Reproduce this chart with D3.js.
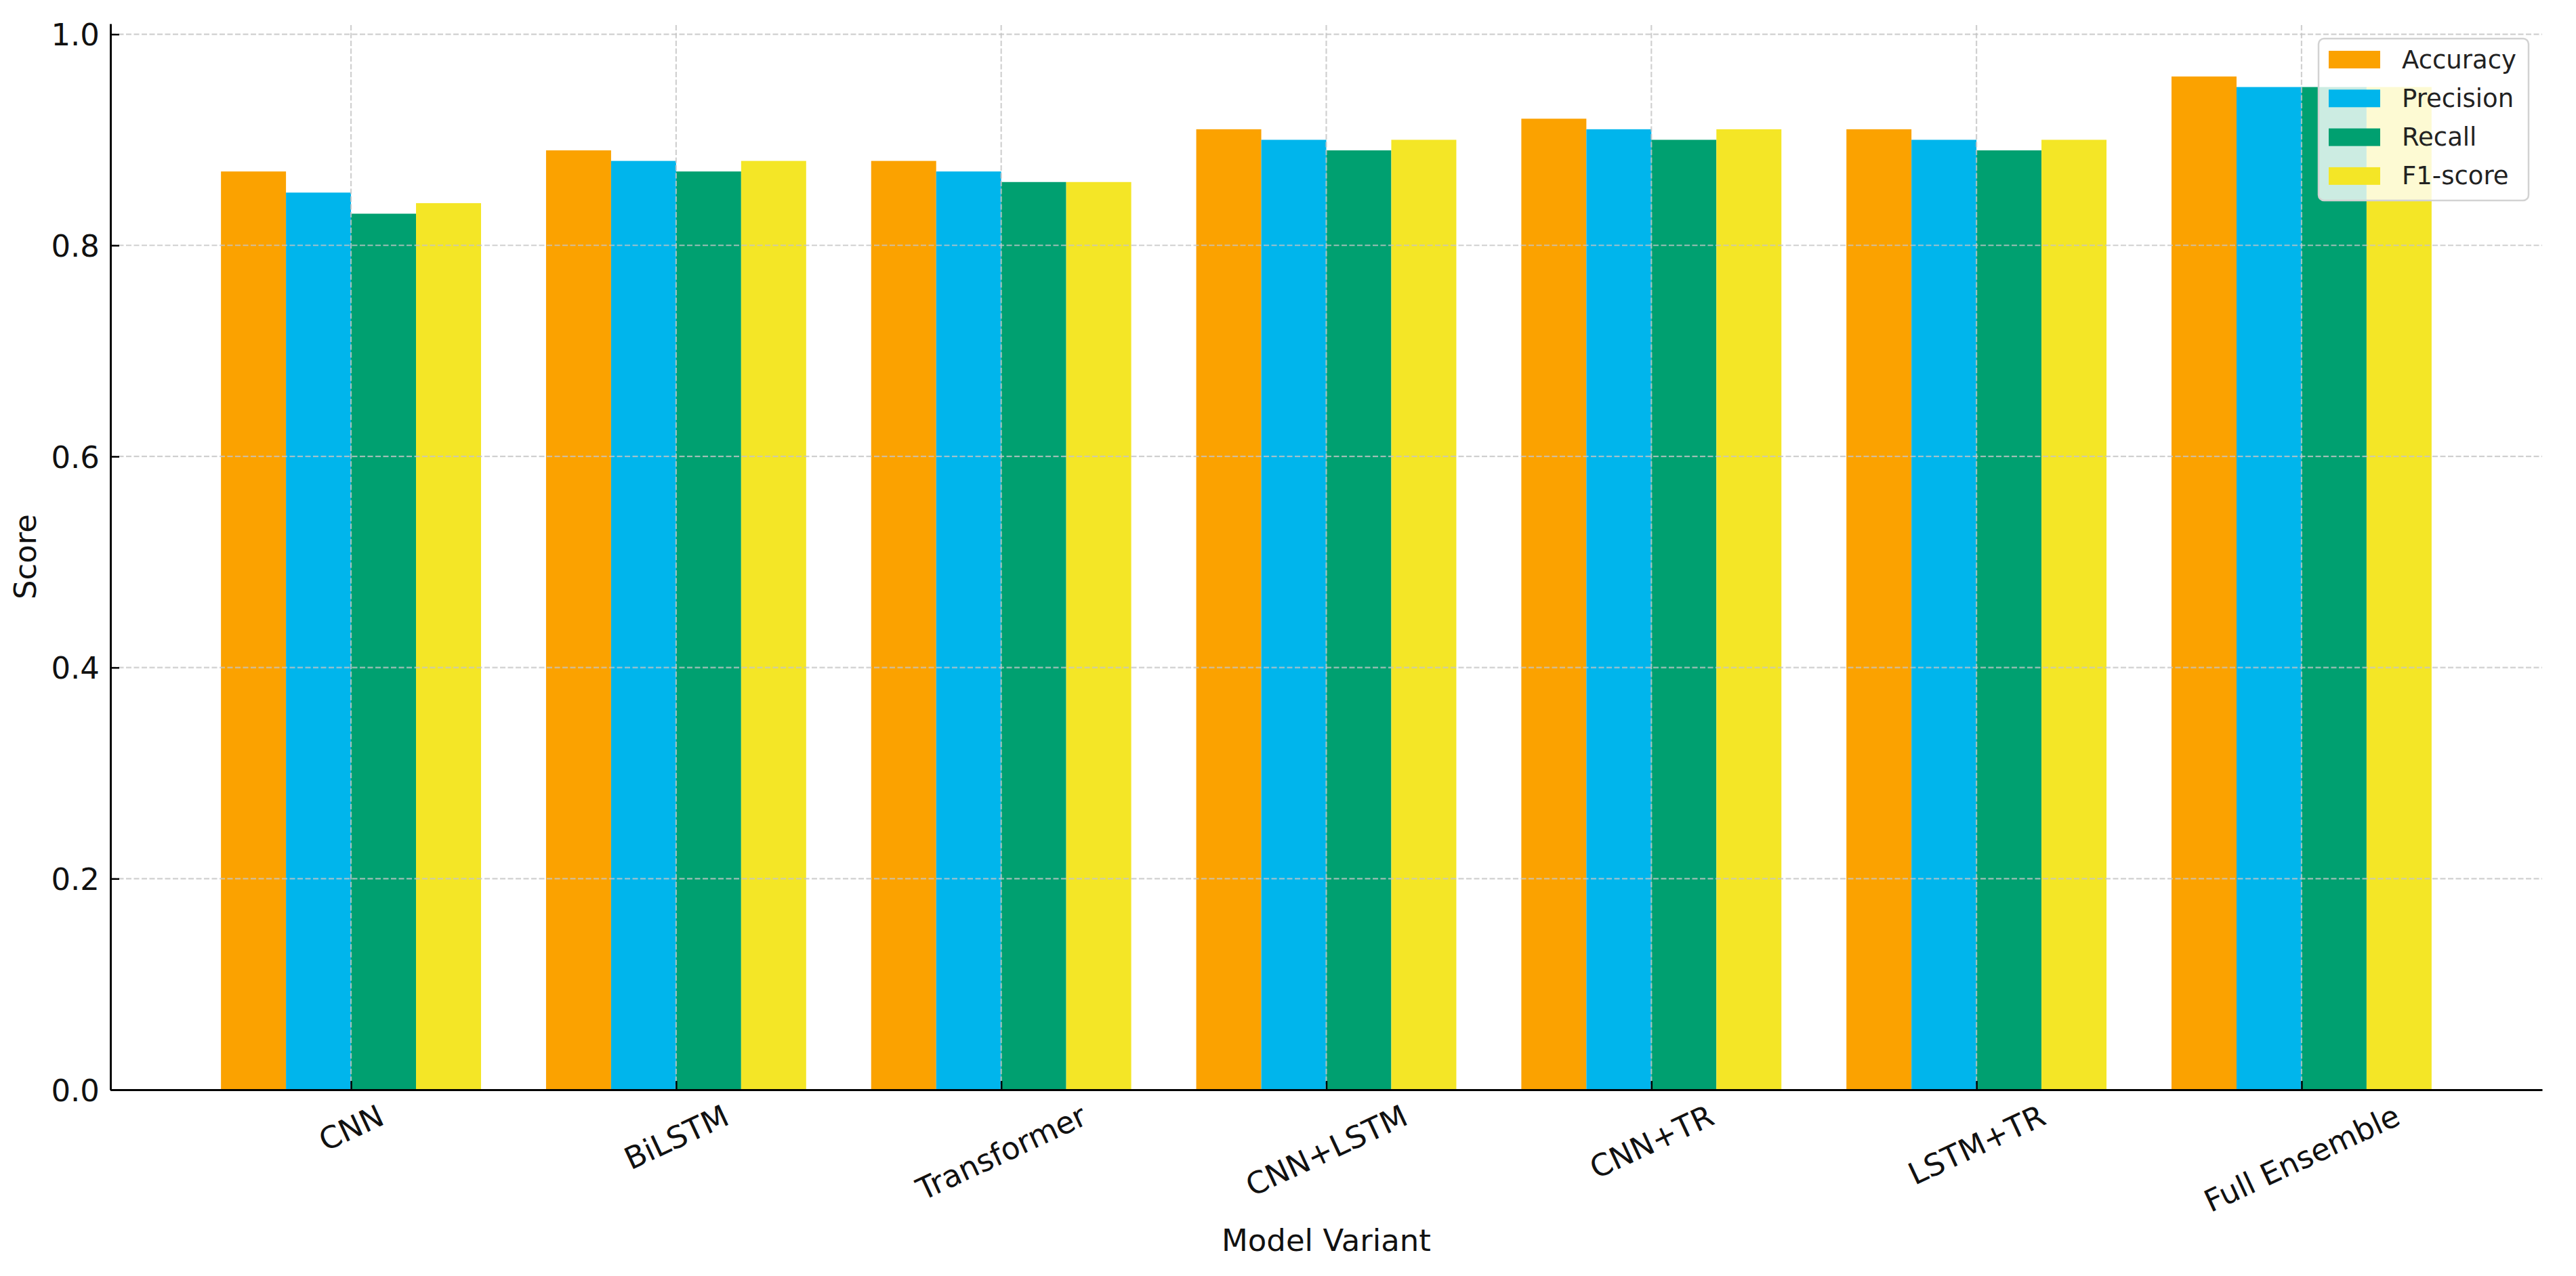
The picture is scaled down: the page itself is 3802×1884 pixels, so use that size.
<!DOCTYPE html>
<html>
<head>
<meta charset="utf-8">
<script src="https://cdn.jsdelivr.net/npm/d3@7"></script>
<style>
  body { margin: 0; background: #fff; }
  text { font-family: "DejaVu Sans", sans-serif; }
</style>
</head>
<body>
<div id="chart"></div>
<script>
// data
var models = ["CNN", "BiLSTM", "Transformer", "CNN+LSTM", "CNN+TR", "LSTM+TR", "Full Ensemble"];
var metrics = ["Accuracy", "Precision", "Recall", "F1-score"];
var accuracy  = [0.87, 0.89, 0.88, 0.91, 0.92, 0.91, 0.96];
var precision = [0.85, 0.88, 0.87, 0.90, 0.91, 0.90, 0.95];
var recall    = [0.83, 0.87, 0.86, 0.89, 0.90, 0.89, 0.95];
var f1score   = [0.84, 0.88, 0.86, 0.90, 0.91, 0.90, 0.95];
var yTicks = [0.0, 0.2, 0.4, 0.6, 0.8, 1.0];
var colors = ["#FBA200", "#00B5EC", "#00A070", "#F4E626"];

var series = [accuracy, precision, recall, f1score];

// layout
var svg_w = 3802;
var svg_h = 1884;
var margin = {left: 163, right: 50, top: 35, bottom: 275};
var bar_w = 0.2;
var tick_font = 45;
var legend_font = 37;
var rot = 25;

var svg = d3.select("#chart")
  .append("svg")
  .attr("width", svg_w)
  .attr("height", svg_h);

var x = d3.scaleLinear()
  .domain([-0.74, models.length - 1 + 0.74])
  .range([margin.left, svg_w - margin.right]);

var y = d3.scaleLinear()
  .domain([0, 1.01])
  .range([svg_h - margin.bottom, margin.top]);

// bars
var cells = [];
series.forEach(function(vals, j) {
  vals.forEach(function(v, i) {
    cells.push({i: i, j: j, v: v});
  });
});

svg.append("g").selectAll("rect")
  .data(cells)
  .enter()
  .append("rect")
  .attr("x", function(d) { return x(d.i + (d.j - 1.5) * bar_w - bar_w / 2); })
  .attr("width", function(d) { return x(bar_w) - x(0); })
  .attr("y", function(d) { return y(d.v); })
  .attr("height", function(d) { return y(0) - y(d.v); })
  .attr("fill", function(d) { return colors[d.j]; });

// grid (drawn over the bars, like the original)
var grid = svg.append("g")
  .attr("stroke", "#c4c4c4")
  .attr("stroke-opacity", 0.8)
  .attr("stroke-width", 2.2)
  .attr("stroke-dasharray", "8,3.5");

grid.selectAll("line.h")
  .data(yTicks)
  .enter()
  .append("line")
  .attr("x1", x.range()[0])
  .attr("x2", x.range()[1])
  .attr("y1", function(d) { return y(d); })
  .attr("y2", function(d) { return y(d); });

grid.selectAll("line.v")
  .data(d3.range(models.length))
  .enter()
  .append("line")
  .attr("x1", function(d) { return x(d); })
  .attr("x2", function(d) { return x(d); })
  .attr("y1", y.range()[0])
  .attr("y2", y.range()[1]);

// y axis
var y_axis = d3.axisLeft(y)
  .tickValues(yTicks)
  .tickFormat(d3.format(".1f"))
  .tickSizeInner(-13)
  .tickSizeOuter(0)
  .tickPadding(16);

var yg = svg.append("g")
  .attr("transform", "translate(" + margin.left + ",0)")
  .call(y_axis);
yg.select("path").attr("stroke", "#000").attr("stroke-width", 3);
yg.selectAll(".tick line").attr("stroke", "#000").attr("stroke-width", 2.5);
yg.selectAll(".tick text")
  .attr("font-size", tick_font)
  .attr("fill", "#111")
  .attr("font-family", "DejaVu Sans")
  .attr("dy", "0.36em")
  .attr("x", -16);

// x axis
var x_axis = d3.axisBottom(x)
  .tickValues(d3.range(models.length))
  .tickFormat(function(d) { return models[d]; })
  .tickSizeInner(-13)
  .tickSizeOuter(0);

var xg = svg.append("g")
  .attr("transform", "translate(0," + y(0) + ")")
  .call(x_axis);
xg.select("path").attr("stroke", "#000").attr("stroke-width", 3);
xg.selectAll(".tick line").attr("stroke", "#000").attr("stroke-width", 2.5);

var th = rot * Math.PI / 180;
xg.selectAll(".tick text")
  .attr("font-size", tick_font)
  .attr("fill", "#111")
  .attr("font-family", "DejaVu Sans")
  .attr("text-anchor", "middle")
  .attr("dominant-baseline", "central")
  .attr("y", 0)
  .attr("dy", 0)
  .attr("transform", function() {
    var L = this.getComputedTextLength();
    var h = tick_font * 1.164;
    var half = (L * Math.sin(th) + h * Math.cos(th)) / 2;
    return "translate(0," + (12 + half) + ") rotate(" + (-rot) + ")";
  });

// axis titles
svg.append("text")
  .attr("x", (x.range()[0] + x.range()[1]) / 2)
  .attr("y", 1847)
  .attr("text-anchor", "middle")
  .attr("font-size", tick_font)
  .attr("fill", "#111")
  .text("Model Variant");

svg.append("text")
  .attr("transform", "translate(37," + ((y.range()[0] + y.range()[1]) / 2) + ") rotate(-90)")
  .attr("text-anchor", "middle")
  .attr("dominant-baseline", "central")
  .attr("font-size", tick_font)
  .attr("fill", "#111")
  .text("Score");

// legend
var lg_w = 310, lg_h = 239;
var lg_x = x.range()[1] - 20 - lg_w;
var lg_y = margin.top + 22;
var legend = svg.append("g").attr("transform", "translate(" + lg_x + "," + lg_y + ")");

legend.append("rect")
  .attr("width", lg_w)
  .attr("height", lg_h)
  .attr("rx", 8)
  .attr("fill", "#fff")
  .attr("fill-opacity", 0.8)
  .attr("stroke", "#d2d2d2")
  .attr("stroke-width", 2.5);

var items = legend.selectAll("g.item")
  .data(metrics)
  .enter()
  .append("g")
  .attr("transform", function(d, k) { return "translate(15," + (31 + k * 57.3) + ")"; });

items.append("rect")
  .attr("y", -13)
  .attr("width", 76)
  .attr("height", 26)
  .attr("fill", function(d, k) { return colors[k]; });

items.append("text")
  .attr("x", 108)
  .attr("dominant-baseline", "central")
  .attr("font-size", legend_font)
  .attr("fill", "#222")
  .text(function(d) { return d; });
</script>
</body>
</html>
